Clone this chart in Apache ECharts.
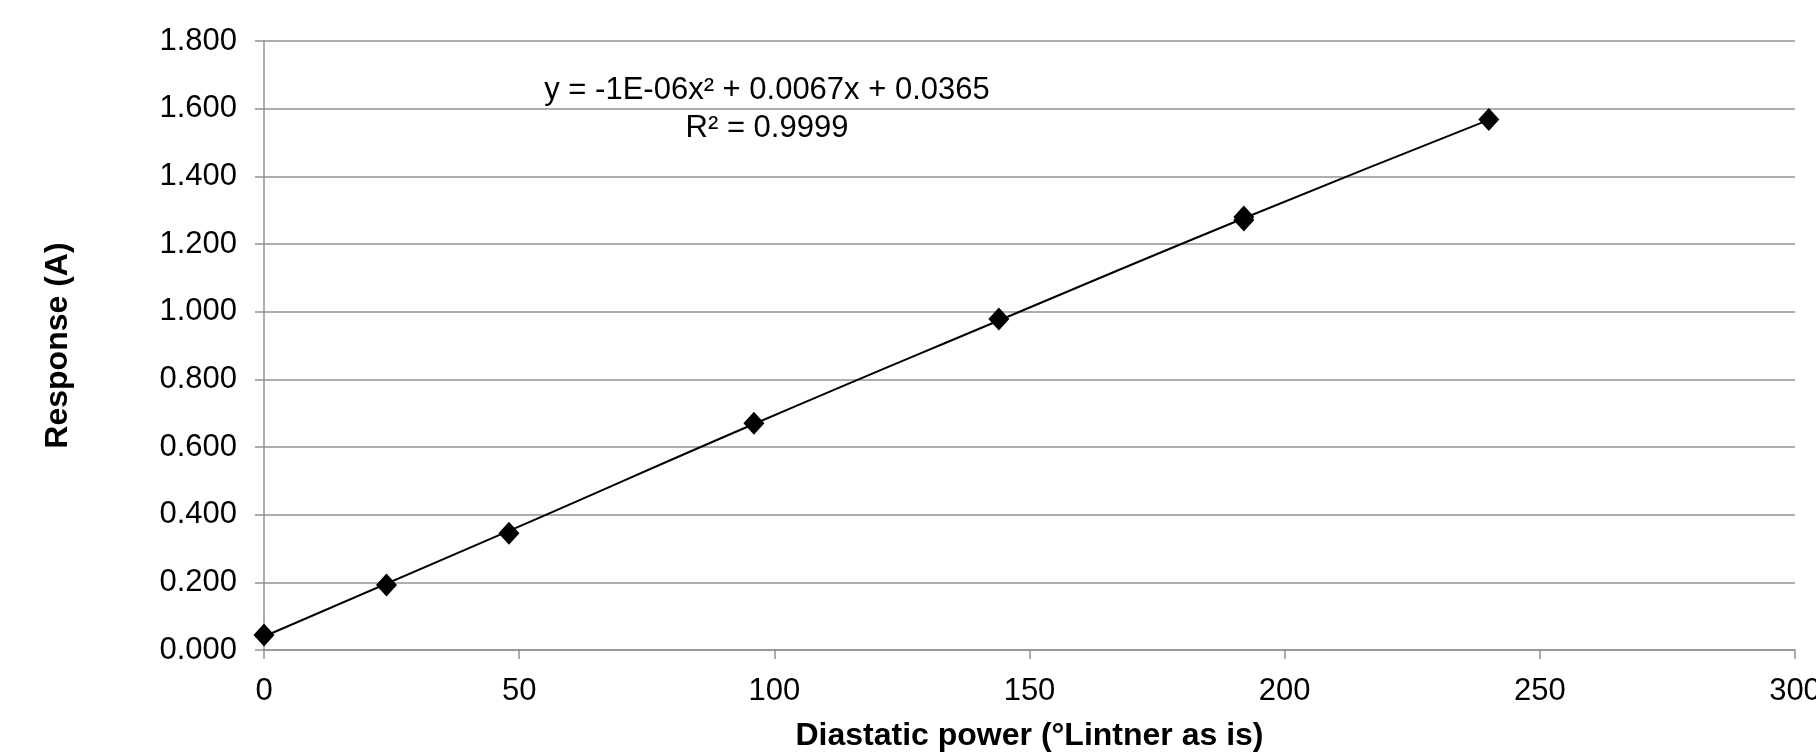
<!DOCTYPE html>
<html style="height: 100%">
<head>
    <meta charset="utf-8">
    <script src="https://cdn.jsdelivr.net/npm/echarts@6/dist/echarts.min.js"></script>
</head>
<body style="height: 100%; margin: 0; background: #fff">
    <div id="container" style="width: 1816px; height: 753px"></div>
    <script type="text/javascript">
        var myChart = echarts.init(document.getElementById('container'));

        // measured points (x = diastatic power, y = response)
        var powerX = [0, 24, 48, 96, 144, 192, 192, 240];
        var responseY = [0.044, 0.192, 0.345, 0.670, 0.978, 1.271, 1.280, 1.568];

        // trendline
        var trendX = [0, 48, 96, 144, 192, 240];
        var trendY = [0.040, 0.352, 0.668, 0.974, 1.276, 1.567];

        var eqLine1 = 'y = -1E-06x\u00b2 + 0.0067x + 0.0365';
        var eqLine2 = 'R\u00b2 = 0.9999';

        var font = 'Liberation Sans';
        var gridGrey = '#939393';

        var points = powerX.map(function (x, i) { return [x, responseY[i]]; });
        var trend = trendX.map(function (x, i) { return [x, trendY[i]]; });

        var option = {
            animation: false,
            grid: {
                left: 264, right: 21, top: 41, bottom: 103,
                containLabel: false, outerBoundsMode: 'none'
            },
            xAxis: {
                type: 'value',
                min: 0, max: 300, interval: 50,
                name: 'Diastatic power (\u00b0Lintner as is)',
                nameLocation: 'middle',
                nameGap: 70,
                nameTextStyle: { fontFamily: font, fontSize: 32, fontWeight: 'bold', color: '#000' },
                axisLine: { lineStyle: { color: gridGrey, width: 1.5 } },
                axisTick: { show: true, length: 9, lineStyle: { color: gridGrey, width: 1.5 } },
                axisLabel: { fontFamily: font, fontSize: 31, color: '#000', margin: 26 },
                splitLine: { show: false }
            },
            yAxis: {
                type: 'value',
                min: 0, max: 1.8, interval: 0.2,
                name: 'Response (A)',
                nameLocation: 'middle',
                nameGap: 190,
                nameTextStyle: { fontFamily: font, fontSize: 32, fontWeight: 'bold', color: '#000' },
                axisLine: { show: true, lineStyle: { color: gridGrey, width: 1.5 } },
                axisTick: { show: true, length: 9, lineStyle: { color: gridGrey, width: 1.5 } },
                axisLabel: {
                    fontFamily: font, fontSize: 31, color: '#000', margin: 27,
                    formatter: function (v) { return v.toFixed(3); }
                },
                splitLine: { lineStyle: { color: gridGrey, width: 1.5 } }
            },
            graphic: [{
                type: 'text',
                x: 767, y: 71,
                style: {
                    text: eqLine1 + '\n' + eqLine2,
                    fontFamily: font, fontSize: 31, fill: '#000',
                    align: 'center', verticalAlign: 'top', lineHeight: 38
                }
            }],
            series: [
                {
                    type: 'line',
                    data: trend,
                    smooth: true,
                    symbol: 'none',
                    lineStyle: { color: '#000', width: 2 },
                    z: 2
                },
                {
                    type: 'scatter',
                    data: points,
                    symbol: 'diamond',
                    symbolSize: [21, 23],
                    itemStyle: { color: '#000', opacity: 1 },
                    z: 3
                }
            ]
        };

        myChart.setOption(option);
    </script>
</body>
</html>
